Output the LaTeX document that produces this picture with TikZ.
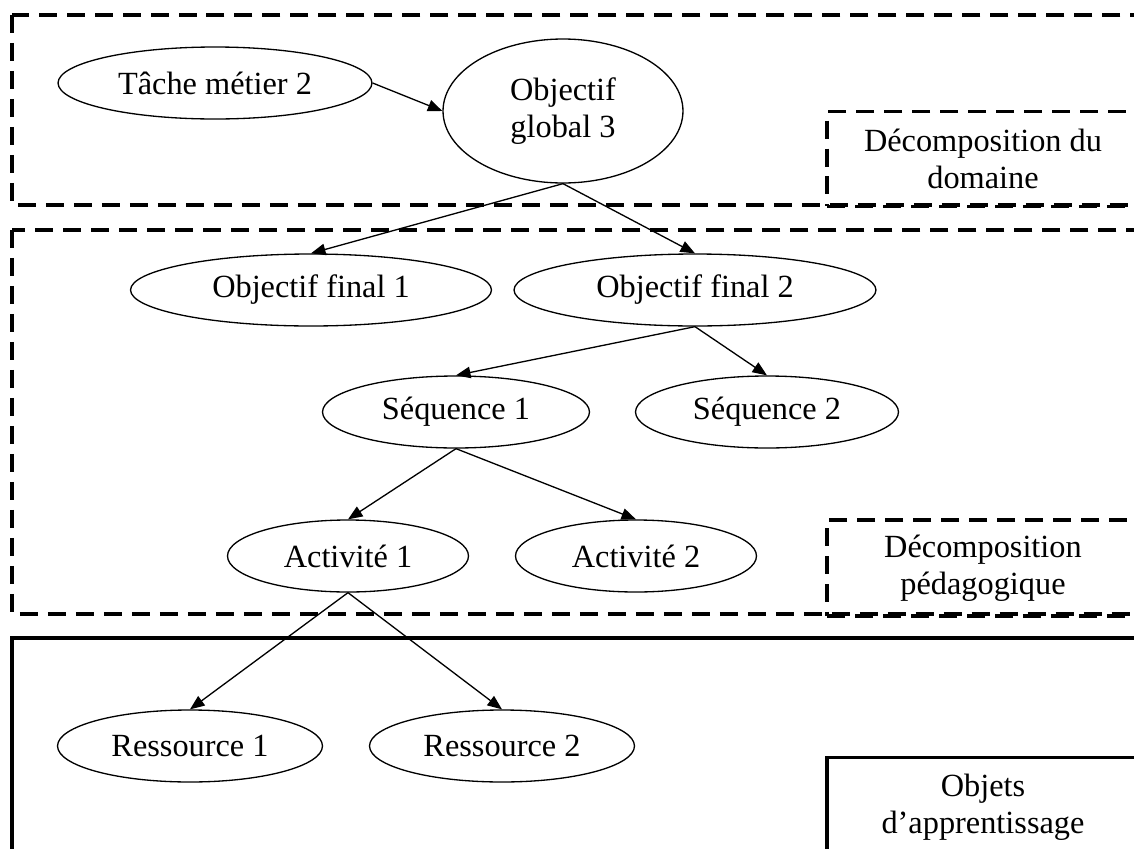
\documentclass[tikz,border=0pt]{standalone}
\usepackage{fontspec}
\setmainfont{Liberation Serif}
\usetikzlibrary{shapes.geometric,arrows.meta}

\begin{document}
\begin{tikzpicture}[x=0.02cm,y=-0.02cm,font=\fontsize{18.4}{20.8}\selectfont,goal/.style={ellipse,draw,line width=.75pt,inner sep=0pt,minimum height=1.44cm},arrow/.style={-{Triangle[length=2.9mm,width=2.3mm]},line width=.75pt},frame/.style={line width=2.2pt,dash pattern=on 3.6mm off 2mm},tag/.style={draw,align=center,minimum width=6.24cm,line width=2.2pt}]
\useasboundingbox (0,0) rectangle (1134,849);
\clip (0,0) rectangle (1134,849);
\draw[frame] (12,15) rectangle (1160,205);
\draw[frame] (12,230) rectangle (1160,614);
\draw[line width=2.2pt] (12,638) rectangle (1160,880);
\node[tag,dash pattern=on 3.6mm off 2mm,minimum height=1.9cm] (dom) at (983,159) {Décomposition du\\domaine};
\node[tag,dash pattern=on 3.6mm off 2mm,minimum height=1.92cm] (ped) at (983,568) {Décomposition\\pédagogique};
\node[tag,minimum height=1.98cm] (obj) at (983,807) {Objets\\d’apprentissage};
\node[goal,minimum width=6.28cm] (tache) at (215,83) {Tâche métier 2};
\node[goal,minimum width=4.8cm,minimum height=2.88cm,align=center] (og3) at (563,111) {Objectif\\global 3};
\node[goal,minimum width=7.22cm] (of1) at (311,290) {Objectif final 1};
\node[goal,minimum width=7.24cm] (of2) at (695,290) {Objectif final 2};
\node[goal,minimum width=5.34cm] (seq1) at (456,412) {Séquence 1};
\node[goal,minimum width=5.26cm] (seq2) at (767,412) {Séquence 2};
\node[goal,minimum width=4.82cm] (act1) at (348,556) {Activité 1};
\node[goal,minimum width=4.82cm] (act2) at (636,556) {Activité 2};
\node[goal,minimum width=5.3cm] (res1) at (190,746) {Ressource 1};
\node[goal,minimum width=5.3cm] (res2) at (502,746) {Ressource 2};
\draw[arrow] (tache.east)--(og3.west);
\draw[arrow] (og3.south)--(of1.north);
\draw[arrow] (og3.south)--(of2.north);
\draw[arrow] (of2.south)--(seq1.north);
\draw[arrow] (of2.south)--(seq2.north);
\draw[arrow] (seq1.south)--(act1.north);
\draw[arrow] (seq1.south)--(act2.north);
\draw[arrow] (act1.south)--(res1.north);
\draw[arrow] (act1.south)--(res2.north);
\end{tikzpicture}
\end{document}
